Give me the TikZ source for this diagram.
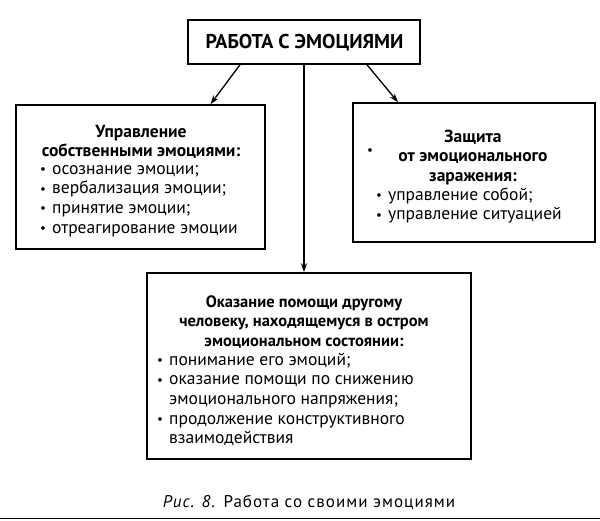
\documentclass[tikz,border=0pt]{standalone}
\usepackage{fontspec}
\setmainfont{PT Sans}
\usetikzlibrary{arrows.meta}
\newcommand\bul{\makebox[12pt][l]{\raisebox{0.5pt}{\fontsize{13}{13}\selectfont\textbullet}}}
\newcommand\fl{\rule{0pt}{14pt}}
\begin{document}
\begin{tikzpicture}[x=1pt,y=-1pt,
  box/.style={draw, line width=1.6pt, inner sep=0pt},
  arr/.style={-{Stealth[length=9pt,width=6pt]}, line width=1.3pt},
  lst/.style={inner sep=0pt, font=\fontsize{17.5}{19.6}\selectfont, align=left, anchor=north west},
  hd/.style={inner sep=0pt, font=\fontsize{17.5}{19.6}\selectfont\bfseries, align=center, anchor=north}]
\useasboundingbox (0,0) rectangle (600,520);
\fill[white] (0,0) rectangle (600,520);
% boxes
\node[box, minimum width=232pt, minimum height=44pt] (top) at (304,42) {};
\node[box, minimum width=249pt, minimum height=144pt] (left) at (140.5,177) {};
\node[box, minimum width=242pt, minimum height=139pt] (right) at (474,172.5) {};
\node[box, minimum width=324pt, minimum height=186pt] (bottom) at (309,366) {};
% title
\node[inner sep=0pt, anchor=base, font=\fontsize{20}{20}\selectfont\bfseries] (title) at (304.5,48) {РАБОТА С ЭМОЦИЯМИ};
% left box
\node[hd] (lh) at (141,123) {\fl Управление\\собственными эмоциями:};
\node[lst] (ll) at (40,160) {\fl\bul осознание эмоции;\\\bul вербализация эмоции;\\\bul принятие эмоции;\\\bul отреагирование эмоции};
% right box
\node[hd] (rh) at (473,128) {\fl Защита\\от эмоционального\\заражения:};
\node[inner sep=0pt, font=\fontsize{13}{13}\selectfont] (rdot) at (370,152) {\textbullet};
\node[lst] (rl) at (376,186) {\fl\bul управление собой;\\\bul управление ситуацией};
% bottom box
\node[hd, font=\fontsize{16.5}{19.6}\selectfont\bfseries] (bh) at (304,293) {\fl Оказание помощи другому\\человеку, находящемуся в остром\\эмоциональном состоянии:};
\node[lst] (bl) at (157,351) {\fl\bul понимание его эмоций;\\\bul оказание помощи по снижению\\\hspace*{12pt}эмоционального напряжения;\\\bul продолжение конструктивного\\\hspace*{12pt}взаимодействия};
% arrows
\draw[arr] ([xshift=-64pt]top.south) -- ([xshift=70pt]left.north);
\draw[arr] ([xshift=63pt]top.south) -- ([xshift=-76pt]right.north);
\draw[arr] (top.south) -- (top.south |- bottom.north);
% caption
\node[inner sep=0pt, anchor=base, font=\fontsize{17}{17}\selectfont\addfontfeatures{LetterSpace=6}] (cap) at (309,507) {\textit{Рис. 8.} Работа со своими эмоциями};
\coordinate (bl0) at (0,518.5);
\coordinate (br0) at (600,518.5);
\draw[line width=1.5pt] (bl0) -- (br0);
\end{tikzpicture}
\end{document}
